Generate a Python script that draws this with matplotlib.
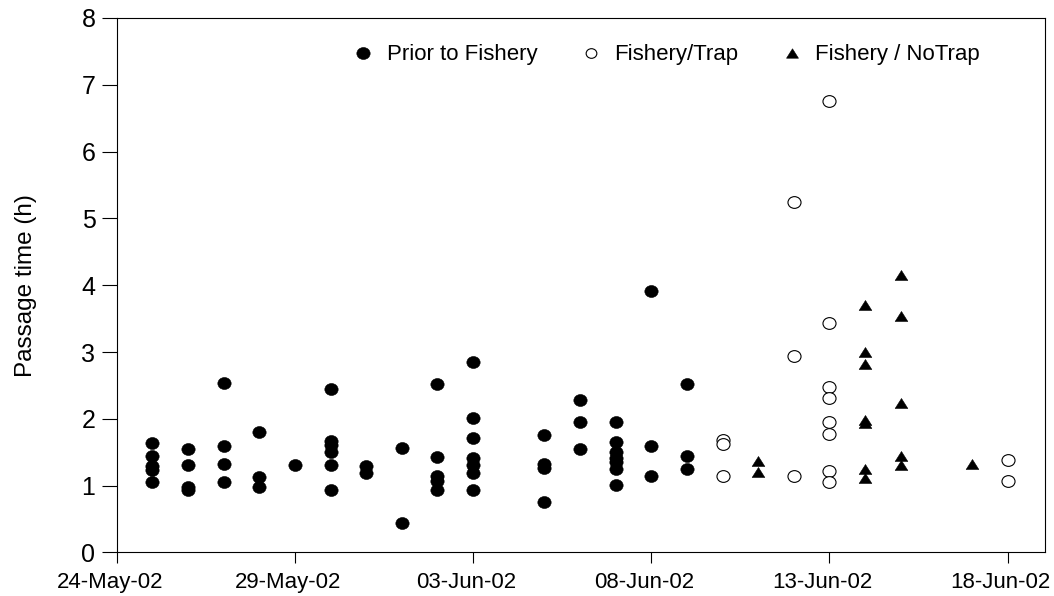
import matplotlib
matplotlib.use('Agg')
import matplotlib.pyplot as plt
import matplotlib.dates as mdates
import matplotlib.transforms as mtransforms
from matplotlib.path import Path
import numpy as np
import pandas as pd

plt.rcParams['font.family'] = ['Liberation Sans', 'DejaVu Sans']

# Passage time (h) per day
prior_days = ['2002-05-25', '2002-05-26', '2002-05-27', '2002-05-28', '2002-05-29',
              '2002-05-30', '2002-05-31', '2002-06-01', '2002-06-02', '2002-06-03',
              '2002-06-05', '2002-06-06', '2002-06-07', '2002-06-08', '2002-06-09']
prior_hours = [[1.64, 1.45, 1.29, 1.24, 1.05],
               [1.55, 1.31, 0.98, 0.94],
               [2.54, 1.59, 1.33, 1.05],
               [1.81, 1.13, 0.98],
               [1.31],
               [2.44, 1.67, 1.61, 1.51, 1.31, 0.94],
               [1.29, 1.19],
               [1.57, 0.44],
               [2.52, 1.43, 1.14, 1.07, 0.94],
               [2.85, 2.02, 1.71, 1.41, 1.31, 1.19, 0.94],
               [1.76, 1.33, 1.26, 0.75],
               [2.28, 1.95, 1.55],
               [1.95, 1.65, 1.51, 1.42, 1.35, 1.25, 1.01],
               [3.91, 1.59, 1.15],
               [2.52, 1.45, 1.25]]

trap_days = ['2002-06-10', '2002-06-12', '2002-06-13', '2002-06-18']
trap_hours = [[1.69, 1.63, 1.15],
              [5.25, 2.94, 1.15],
              [6.76, 3.43, 2.47, 2.31, 1.96, 1.77, 1.22, 1.05],
              [1.385, 1.075]]

notrap_days = ['2002-06-11', '2002-06-14', '2002-06-15', '2002-06-17']
notrap_hours = [[1.37, 1.20],
                [3.70, 3.00, 2.82, 1.98, 1.94, 1.25, 1.11],
                [4.15, 3.54, 2.24, 1.44, 1.31],
                [1.32]]

x_ticks = pd.date_range('2002-05-24', '2002-06-18', freq='5D')


def flatten(days, hours):
    d = [pd.Timestamp(day) for day, vals in zip(days, hours) for _ in vals]
    v = [h for vals in hours for h in vals]
    return d, v


# slightly squashed marker shapes, like the original export
circ = Path.unit_circle()
ellipse = Path(circ.vertices * np.array([1.0, 0.9]), circ.codes)
tri = Path([(0, 0.79), (-1, -0.79), (1, -0.79), (0, 0.79)],
           [Path.MOVETO, Path.LINETO, Path.LINETO, Path.CLOSEPOLY])

fig = plt.figure(figsize=(10.54, 5.96), dpi=100)
ax = fig.add_axes([0.1107, 0.0730, 0.8808, 0.8968])

xd, yv = flatten(prior_days, prior_hours)
l1, = ax.plot(xd, yv, linestyle='none', marker=ellipse, markersize=9.6,
              mfc='black', mec='black', mew=0.4, label='Prior to Fishery')
xd, yv = flatten(trap_days, trap_hours)
l2, = ax.plot(xd, yv, linestyle='none', marker=ellipse, markersize=9.4,
              mfc='white', mec='black', mew=0.8, label='Fishery/Trap')
xd, yv = flatten(notrap_days, notrap_hours)
l3, = ax.plot(xd, yv, linestyle='none', marker=tri, markersize=9.1,
              mfc='black', mec='black', mew=0.4, label='Fishery / NoTrap')

x0 = mdates.date2num(pd.Timestamp('2002-05-24'))
ax.set_xlim(x0, x0 + 26.05)
ax.set_ylim(0, 8)
ax.set_yticks(range(0, 9))
ax.set_xticks(x_ticks)
ax.xaxis.set_major_formatter(mdates.DateFormatter('%d-%b-%y'))

ax.tick_params(axis='y', length=10.8, width=0.8, labelsize=18, pad=4.5)
ax.tick_params(axis='x', length=7.7, width=0.8, labelsize=16, pad=6.5)
for s in ax.spines.values():
    s.set_linewidth(0.8)

# date labels sit a little left of their ticks in the original
shift = mtransforms.ScaledTranslation(-7 / 100, 0, fig.dpi_scale_trans)
for lbl in ax.get_xticklabels():
    lbl.set_transform(lbl.get_transform() + shift)

ax.set_ylabel('Passage time (h)', fontsize=17.5)
ax.yaxis.set_label_coords(-0.086, 0.5)

leg = ax.legend(handles=[l1, l2, l3], ncol=3, frameon=False, loc='center',
                bbox_to_anchor=(0.5917, 0.931), fontsize=16, handlelength=1.0,
                handletextpad=0.55, columnspacing=1.9, borderpad=0)
leg.legend_handles[1].set_markersize(7.7)
leg.legend_handles[2].set_markersize(8.6)

fig.savefig('out.png', dpi=100)
